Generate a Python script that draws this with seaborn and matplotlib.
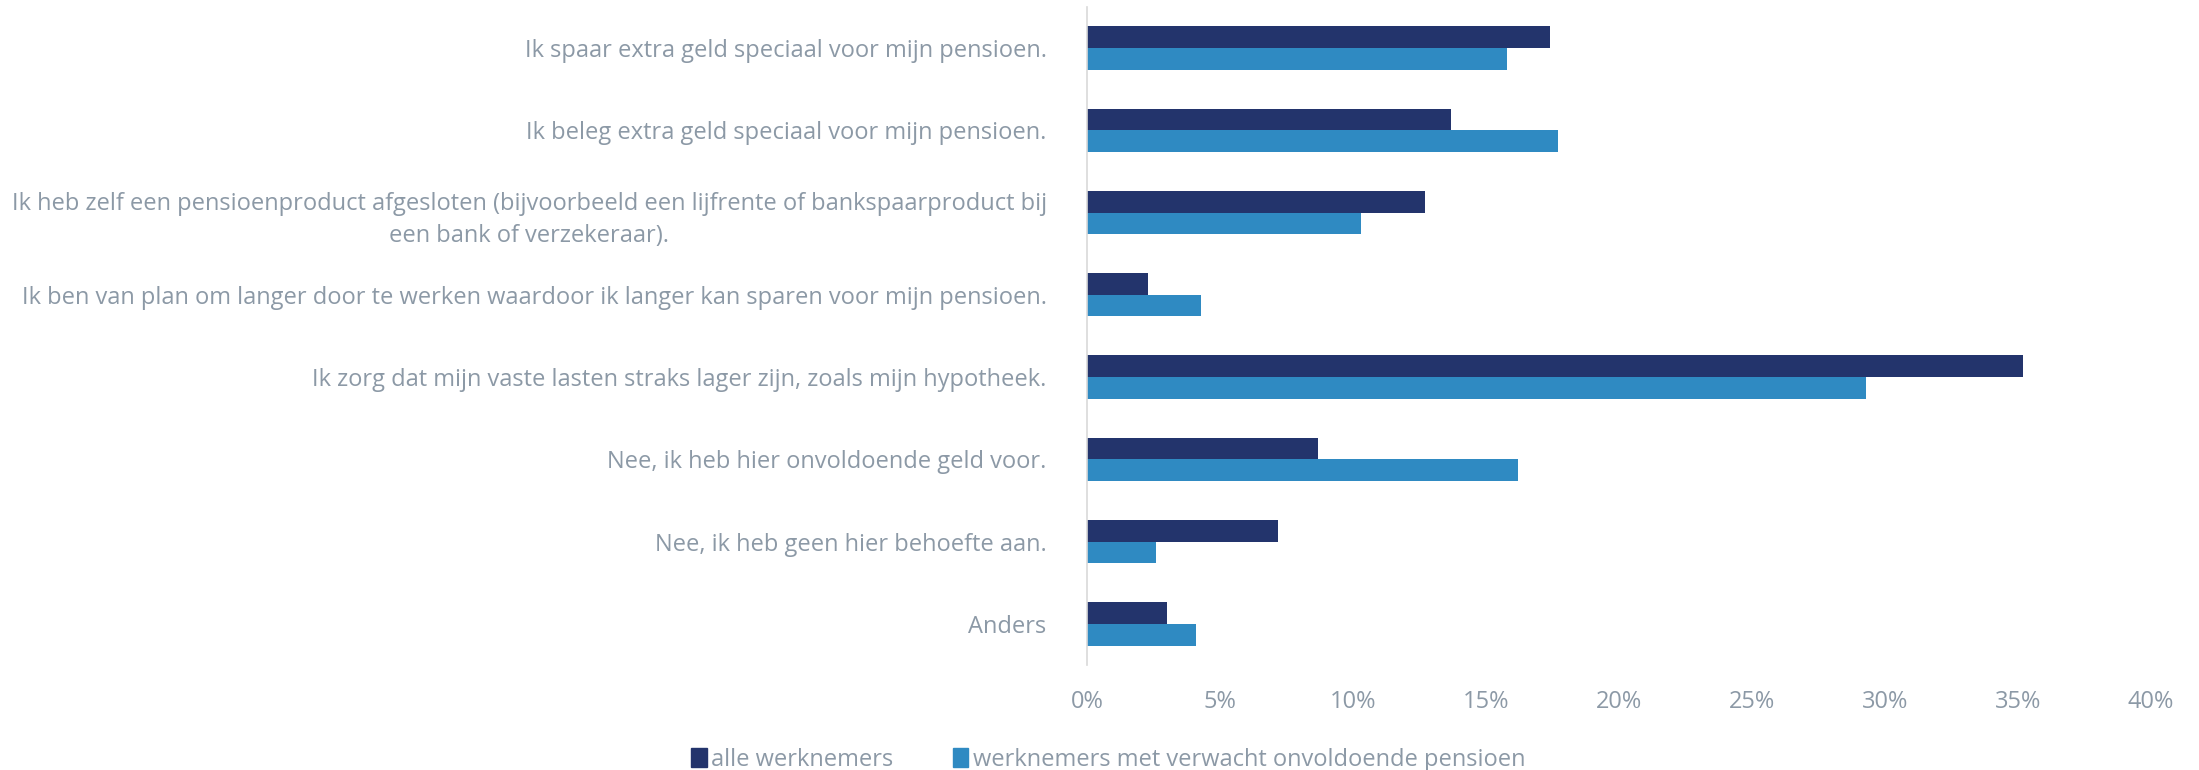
import pandas as pd
import matplotlib.pyplot as plt
import matplotlib.ticker as mticker
import seaborn as sns

# Data
categorieen = [
    "Ik spaar extra geld speciaal voor mijn pensioen.",
    "Ik beleg extra geld speciaal voor mijn pensioen.",
    "Ik heb zelf een pensioenproduct afgesloten (bijvoorbeeld een lijfrente of bankspaarproduct bij\neen bank of verzekeraar).",
    "Ik ben van plan om langer door te werken waardoor ik langer kan sparen voor mijn pensioen.",
    "Ik zorg dat mijn vaste lasten straks lager zijn, zoals mijn hypotheek.",
    "Nee, ik heb hier onvoldoende geld voor.",
    "Nee, ik heb geen hier behoefte aan.",
    "Anders",
]
alle_werknemers = [17.4, 13.7, 12.7, 2.3, 35.2, 8.7, 7.2, 3.0]
onvoldoende_pensioen = [15.8, 17.7, 10.3, 4.3, 29.3, 16.2, 2.6, 4.1]
reeksen = ["alle werknemers", "werknemers met verwacht onvoldoende pensioen"]

KLEUREN = ["#23346c", "#2f8ac2"]
TEKST = "#8c99a6"
FS = 17

df = pd.DataFrame({
    "categorie": categorieen * 2,
    "waarde": alle_werknemers + onvoldoende_pensioen,
    "reeks": [reeksen[0]] * len(categorieen) + [reeksen[1]] * len(categorieen),
})

sns.set_theme(style="white")
plt.rcParams["font.family"] = ["Open Sans", "DejaVu Sans"]

fig, ax = plt.subplots(figsize=(21.99, 7.7), dpi=100)
fig.subplots_adjust(left=0.4943, right=0.978, top=0.991, bottom=0.1364)

sns.barplot(data=df, x="waarde", y="categorie", hue="reeks", hue_order=reeksen,
            order=categorieen, palette=KLEUREN, saturation=1, orient="h",
            width=0.527, linewidth=0, ax=ax)

ax.set_xlim(0, 40)
ax.set_ylim(7.5, -0.5)
ax.xaxis.set_major_locator(mticker.MultipleLocator(5))
ax.xaxis.set_major_formatter(mticker.FuncFormatter(lambda x, _: f"{int(x)}%"))
ax.set_xlabel("")
ax.set_ylabel("")
ax.tick_params(axis="both", length=0, colors=TEKST, labelsize=FS)
ax.tick_params(axis="x", pad=18)
ax.tick_params(axis="y", pad=29)
for lbl in ax.get_yticklabels():
    lbl.set_multialignment("center")
    lbl.set_linespacing(1.45)

for kant in ["top", "right", "bottom"]:
    ax.spines[kant].set_visible(False)
ax.spines["left"].set_color("#d9d9d9")
ax.spines["left"].set_linewidth(1.2)

ax.get_legend().remove()
handles = [plt.Rectangle((0, 0), 1, 1, color=c) for c in KLEUREN]
fig.legend(handles, reeksen, loc="lower center", bbox_to_anchor=(0.504, -0.03),
           ncol=2, frameon=False, fontsize=FS, labelcolor=TEKST,
           handlelength=0.65, handleheight=0.85, handletextpad=0.2, columnspacing=2.5)

fig.savefig("out.png", dpi=100)
